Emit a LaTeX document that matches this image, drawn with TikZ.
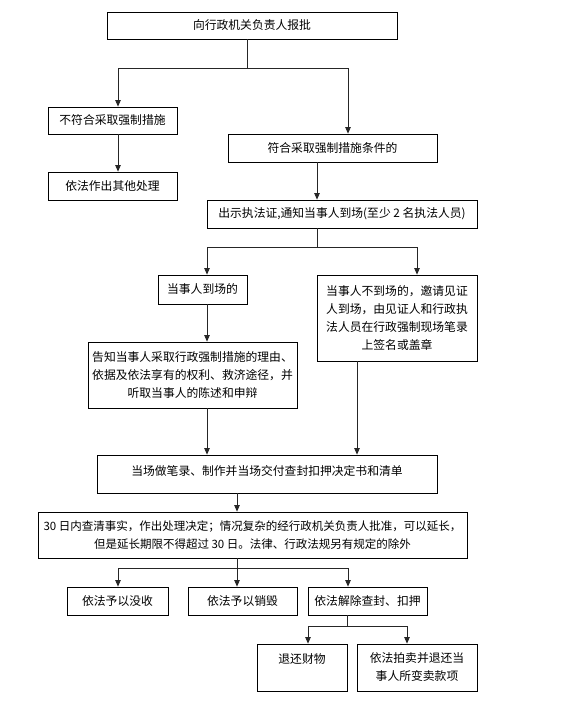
\documentclass[tikz,border=0pt]{standalone}
\usepackage{fontspec}
\setmainfont{Noto Sans CJK SC}
\usetikzlibrary{arrows.meta}
\begin{document}
\begin{tikzpicture}[x=1pt,y=-1pt,
  box/.style={draw=black, line width=0.8pt, inner sep=0pt, align=center, font=\fontsize{11.8}{18}\selectfont},
  conn/.style={line width=0.8pt, draw=black!85},
  arr/.style={conn, -{Triangle[length=6.5pt,width=5.5pt]}}]
\useasboundingbox[fill=white] (0,0) rectangle (561,702);

\node[box, minimum width=290pt, minimum height=27pt] (b1) at (252,25.5) {向行政机关负责人报批};
\node[box, minimum width=129pt, minimum height=27pt] (b2) at (112.5,120.5) {不符合采取强制措施};
\node[box, minimum width=209pt, minimum height=28pt] (b3) at (332.5,148) {符合采取强制措施条件的};
\node[box, minimum width=129pt, minimum height=28pt] (b4) at (112.5,186) {依法作出其他处理};
\node[box, minimum width=270pt, minimum height=28pt] (b5) at (342,214) {出示执法证,通知当事人到场(至少 2 名执法人员)};
\node[box, minimum width=89pt, minimum height=29pt] (b6) at (202.5,289.5) {当事人到场的};
\node[box, minimum width=160pt, minimum height=86pt] (b7) at (397,318) {当事人不到场的，邀请见证\\人到场，由见证人和行政执\\法人员在行政强制现场笔录\\上签名或盖章};
\node[box, minimum width=209pt, minimum height=66pt] (b8) at (192.5,375) {告知当事人采取行政强制措施的理由、\\依据及依法享有的权利、救济途径，并\\听取当事人的陈述和申辩};
\node[box, minimum width=340pt, minimum height=38pt] (b9) at (267,474) {当场做笔录、制作并当场交付查封扣押决定书和清单\\[-10pt]\mbox{}};
\node[box, minimum width=429pt, minimum height=46pt, font=\fontsize{11.5}{18}\selectfont] (b10) at (252.5,535) {30 日内查清事实，作出处理决定；情况复杂的经行政机关负责人批准，可以延长，\\但是延长期限不得超过 30 日。法律、行政法规另有规定的除外};
\node[box, minimum width=101pt, minimum height=28pt] (b11) at (117.5,601) {依法予以没收};
\node[box, minimum width=109pt, minimum height=28pt] (b12) at (242.5,601) {依法予以销毁};
\node[box, minimum width=119pt, minimum height=28pt] (b13) at (367.5,601) {依法解除查封、扣押};
\node[box, minimum width=90pt, minimum height=47pt] (b14) at (302,667.5) {退还财物\\\mbox{}};
\node[box, minimum width=120pt, minimum height=47pt] (b15) at (417,667.5) {依法拍卖并退还当\\事人所变卖款项};

% junctions
\coordinate (j1) at (247,68);
\coordinate (j1l) at (118,68);
\coordinate (j1r) at (348,68);
\coordinate (x317) at (317,0);
\coordinate (j2) at (317,247);
\coordinate (j2l) at (207,247);
\coordinate (j2r) at (417,247);
\coordinate (x357) at (357,0);
\coordinate (x237) at (237,0);
\coordinate (j3) at (237,568);
\coordinate (j3l) at (118,568);
\coordinate (j3r) at (348,568);
\coordinate (j4) at (347,626);
\coordinate (j4l) at (308,626);
\coordinate (j4r) at (407,626);

\draw[conn] (b1.south -| j1) -- (j1);
\draw[conn] (j1l) -- (j1r);
\draw[arr] (j1l) -- (j1l |- b2.north);
\draw[arr] (j1r) -- (j1r |- b3.north);
\draw[arr] (b2.south -| j1l) -- (b4.north -| j1l);
\draw[arr] (b3.south -| x317) -- (b5.north -| x317);

\draw[conn] (b5.south -| j2) -- (j2);
\draw[conn] (j2l) -- (j2r);
\draw[arr] (j2l) -- (j2l |- b6.north);
\draw[arr] (j2r) -- (j2r |- b7.north);
\draw[arr] (b6.south -| j2l) -- (b8.north -| j2l);
\draw[arr] (b8.south -| j2l) -- (b9.north -| j2l);
\draw[arr] (b7.south -| x357) -- (b9.north -| x357);
\draw[arr] (b9.south -| x237) -- (b10.north -| x237);

\draw[conn] (b10.south -| j3) -- (j3);
\draw[conn] (j3l) -- (j3r);
\draw[arr] (j3l) -- (j3l |- b11.north);
\draw[arr] (j3) -- (j3 |- b12.north);
\draw[arr] (j3r) -- (j3r |- b13.north);

\draw[conn] (b13.south -| j4) -- (j4);
\draw[conn] (j4l) -- (j4r);
\draw[arr] (j4l) -- (j4l |- b14.north);
\draw[arr] (j4r) -- (j4r |- b15.north);
\end{tikzpicture}
\end{document}
